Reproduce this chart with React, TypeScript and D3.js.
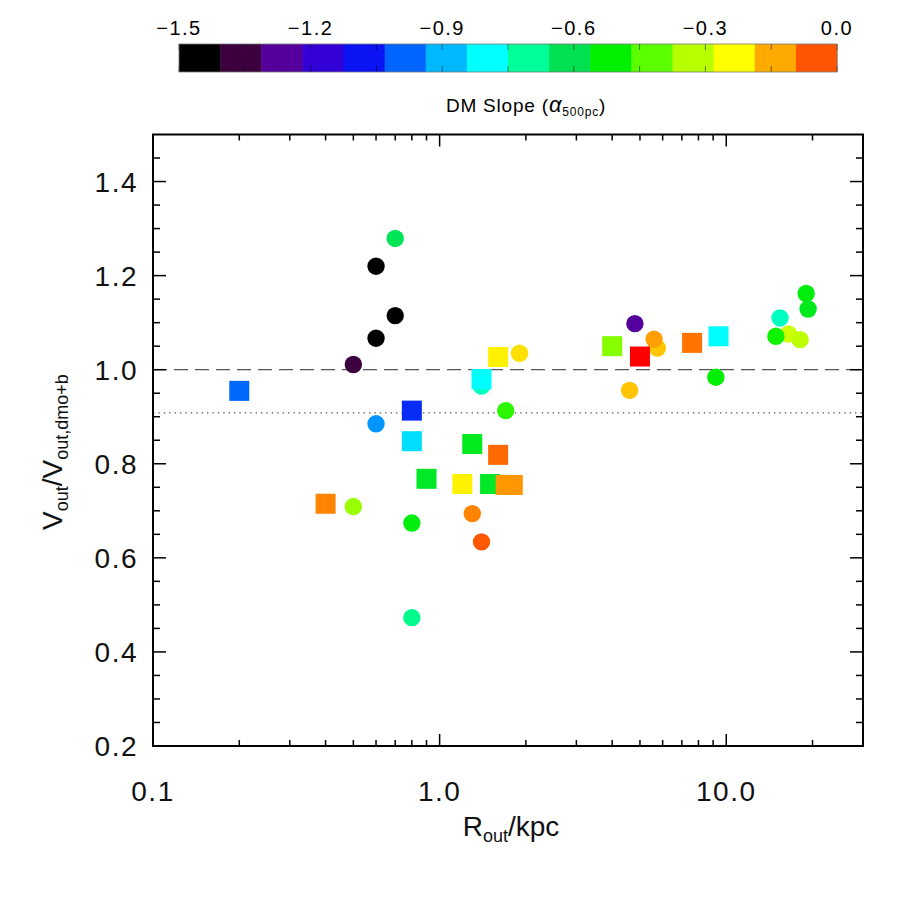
import React, { useRef, useEffect } from 'react';
import * as d3 from 'd3';

// circles
const circleR = [0.5, 0.5, 0.6, 0.6, 0.6, 0.7, 0.7, 0.8, 0.8, 1.3, 1.4, 1.4, 1.7, 1.9, 4.6, 4.8, 5.75, 5.6, 9.2, 16.5, 14.9, 15.4, 18.1, 19.0, 19.3];
const circleV = [0.709, 1.011, 1.22, 1.067, 0.885, 1.279, 1.115, 0.674, 0.473, 0.694, 0.965, 0.634, 0.913, 1.035, 0.956, 1.098, 1.046, 1.065, 0.984, 1.076, 1.071, 1.11, 1.064, 1.162, 1.129];
const circleAlpha = [-0.36, -1.36, -1.5, -1.5, -0.93, -0.62, -1.5, -0.53, -0.69, -0.1, -0.74, -0.05, -0.47, -0.2, -0.17, -1.26, -0.17, -0.13, -0.52, -0.3, -0.5, -0.74, -0.32, -0.53, -0.55];

// squares
const squareR = [0.2, 0.4, 0.8, 0.8, 0.9, 1.2, 1.3, 1.4, 1.5, 1.6, 1.6, 1.7, 1.8, 4.0, 5.0, 7.6, 9.4];
const squareV = [0.955, 0.715, 0.913, 0.848, 0.768, 0.757, 0.842, 0.98, 0.757, 1.027, 0.819, 0.755, 0.755, 1.05, 1.028, 1.057, 1.071];
const squareAlpha = [-0.98, -0.1, -1.05, -0.84, -0.56, -0.22, -0.55, -0.8, -0.56, -0.22, -0.07, -0.12, -0.12, -0.38, 0.0, -0.08, -0.8];

const yTickValues = [0.2, 0.4, 0.6, 0.8, 1.0, 1.2, 1.4];
const xTickLabels = ['0.1', '1.0', '10.0'];
const colorbarTickValues = [-1.5, -1.2, -0.9, -0.6, -0.3, 0.0];

// 16-step colour table of the bar
const PALETTE = ['#000000', '#3c003e', '#55009a', '#3300d6', '#0a14f2', '#0064ff', '#00b8ff', '#00ffff',
  '#00ff98', '#00e050', '#00f000', '#5cff00', '#b8ff00', '#ffff00', '#ffaa00', '#ff5500'];

export default function App() {
  const svgRef = useRef<SVGSVGElement>(null);
  const width = 900, height = 900;

  useEffect(() => {
    if (!svgRef.current) return;
    const svg = d3.select(svgRef.current);
    svg.selectAll('*').remove();

    const L = 153, R = 863, T = 134.5, B = 746;
    const font = "'Liberation Sans', Arial, sans-serif";

    const x = d3.scaleLog().domain([0.1, 30]).range([L, R]);
    const y = d3.scaleLinear().domain([0.2, 1.5]).range([B, T]);

    const step = 1.5 / PALETTE.length;
    const centers = PALETTE.map((_, i) => -1.5 + (i + 0.5) * step);
    const color = d3.scaleLinear<string>()
      .domain([...centers, 0.0])
      .range([...PALETTE, '#ff0000'])
      .interpolate(d3.interpolateRgb)
      .clamp(true);

    // colour bar
    const cbL = 179, cbR = 837, cbT = 44, cbB = 72;
    const cx = d3.scaleLinear().domain([-1.5, 0]).range([cbL, cbR]);
    const cb = svg.append('g');
    cb.selectAll('rect.seg')
      .data(PALETTE)
      .enter().append('rect')
      .attr('x', (_, i) => cx(-1.5 + i * step))
      .attr('y', cbT)
      .attr('width', cx(-1.5 + step) - cx(-1.5) + 0.5)
      .attr('height', cbB - cbT)
      .attr('fill', d => d);
    const cbMinor = d3.range(-1.5, 0.001, 0.15);
    cb.selectAll('line.ct')
      .data(cbMinor)
      .enter().append('line')
      .attr('x1', d => cx(d)).attr('x2', d => cx(d))
      .attr('y1', cbT).attr('y2', cbT + 6)
      .attr('stroke', '#000').attr('stroke-opacity', 0.5).attr('stroke-width', 1);
    cb.selectAll('line.cbt')
      .data(cbMinor)
      .enter().append('line')
      .attr('x1', d => cx(d)).attr('x2', d => cx(d))
      .attr('y1', cbB - 6).attr('y2', cbB)
      .attr('stroke', '#000').attr('stroke-opacity', 0.5).attr('stroke-width', 1);
    cb.append('rect')
      .attr('x', cbL).attr('y', cbT).attr('width', cbR - cbL).attr('height', cbB - cbT)
      .attr('fill', 'none').attr('stroke', '#777').attr('stroke-width', 0.8);
    cb.selectAll('text.cl')
      .data(colorbarTickValues)
      .enter().append('text')
      .attr('x', d => cx(d))
      .attr('y', 35)
      .attr('text-anchor', 'middle')
      .style('font-family', font).style('font-size', '20px').style('letter-spacing', '1.5px')
      .text(d => (d === 0 ? '0.0' : '\u2212' + Math.abs(d).toFixed(1)));
    const ct = cb.append('text')
      .attr('x', 526).attr('y', 112)
      .attr('text-anchor', 'middle')
      .style('font-family', font).style('font-size', '19px').style('letter-spacing', '0.8px');
    ct.append('tspan').text('DM Slope (');
    ct.append('tspan').style('font-style', 'italic').style('font-size', '22px').text('\u03b1');
    ct.append('tspan').attr('dy', 4).style('font-size', '12px').text('500pc');
    ct.append('tspan').attr('dy', -4).text(')');

    // reference lines
    svg.append('line')
      .attr('x1', L).attr('x2', R).attr('y1', y(1.0)).attr('y2', y(1.0))
      .attr('stroke', '#555').attr('stroke-width', 1.3).attr('stroke-dasharray', '14 7');
    svg.append('line')
      .attr('x1', L).attr('x2', R).attr('y1', y(0.908)).attr('y2', y(0.908))
      .attr('stroke', '#555').attr('stroke-width', 1.3).attr('stroke-dasharray', '1.4 4');

    // points
    const circles = circleR.map((r, i) => ({ r, v: circleV[i], a: circleAlpha[i] }));
    const squares = squareR.map((r, i) => ({ r, v: squareV[i], a: squareAlpha[i] }));

    svg.append('g').selectAll('circle')
      .data(circles)
      .enter().append('circle')
      .attr('cx', d => x(d.r))
      .attr('cy', d => y(d.v))
      .attr('r', 8.7)
      .attr('fill', d => color(d.a));

    const s = 20;
    svg.append('g').selectAll('rect')
      .data(squares)
      .enter().append('rect')
      .attr('x', d => x(d.r) - s / 2)
      .attr('y', d => y(d.v) - s / 2)
      .attr('width', s)
      .attr('height', s)
      .attr('fill', d => color(d.a));

    // axes frame + ticks
    const ax = svg.append('g').attr('stroke', '#000');
    const xt = x.ticks().filter(d => d > 0.1 && d < 30);
    xt.forEach(d => {
      const major = Math.abs(Math.log10(d) - Math.round(Math.log10(d))) < 1e-6;
      const len = major ? 12 : 6;
      ax.append('line').attr('x1', x(d)).attr('x2', x(d)).attr('y1', B).attr('y2', B - len).attr('stroke-width', 1.5);
      ax.append('line').attr('x1', x(d)).attr('x2', x(d)).attr('y1', T).attr('y2', T + len).attr('stroke-width', 1.5);
    });
    const ytMinor = d3.range(0.25, 1.5, 0.05);
    ytMinor.forEach(d => {
      const major = Math.abs(d * 5 - Math.round(d * 5)) < 1e-6;
      const len = major ? 13 : 7;
      ax.append('line').attr('x1', L).attr('x2', L + len).attr('y1', y(d)).attr('y2', y(d)).attr('stroke-width', 1.5);
      ax.append('line').attr('x1', R).attr('x2', R - len).attr('y1', y(d)).attr('y2', y(d)).attr('stroke-width', 1.5);
    });
    ax.append('rect')
      .attr('x', L).attr('y', T).attr('width', R - L).attr('height', B - T)
      .attr('fill', 'none').attr('stroke-width', 2);

    // tick labels
    svg.selectAll('text.yl')
      .data(yTickValues)
      .enter().append('text')
      .attr('x', 138)
      .attr('y', d => y(d) + 10)
      .attr('text-anchor', 'end')
      .style('font-family', font).style('font-size', '28px').style('letter-spacing', '1.5px')
      .style('fill', '#111')
      .text(d => d.toFixed(1));

    svg.selectAll('text.xl')
      .data(xTickLabels)
      .enter().append('text')
      .attr('x', d => x(+d))
      .attr('y', 801)
      .attr('text-anchor', 'middle')
      .style('font-family', font).style('font-size', '28px').style('letter-spacing', '1.5px')
      .style('fill', '#111')
      .text(d => d);

    // axis titles
    const xtitle = svg.append('text')
      .attr('x', 511).attr('y', 836)
      .attr('text-anchor', 'middle')
      .style('font-family', font).style('font-size', '28px').style('fill', '#111');
    xtitle.append('tspan').text('R');
    xtitle.append('tspan').attr('dy', 6).style('font-size', '18px').text('out');
    xtitle.append('tspan').attr('dy', -6).text('/kpc');

    const ytitle = svg.append('text')
      .attr('transform', 'translate(62, 452) rotate(-90)')
      .attr('text-anchor', 'middle')
      .style('font-family', font).style('font-size', '28px').style('fill', '#111');
    ytitle.append('tspan').text('V');
    ytitle.append('tspan').attr('dy', 6).style('font-size', '18px').text('out');
    ytitle.append('tspan').attr('dy', -6).text('/V');
    ytitle.append('tspan').attr('dy', 6).style('font-size', '18px').text('out,dmo+b');
  }, []);

  return (
    <svg
      ref={svgRef}
      width={width}
      height={height}
      viewBox={`0 0 ${width} ${height}`}
      style={{ position: 'absolute', left: 0, top: 0, background: '#fff' }}
    />
  );
}
